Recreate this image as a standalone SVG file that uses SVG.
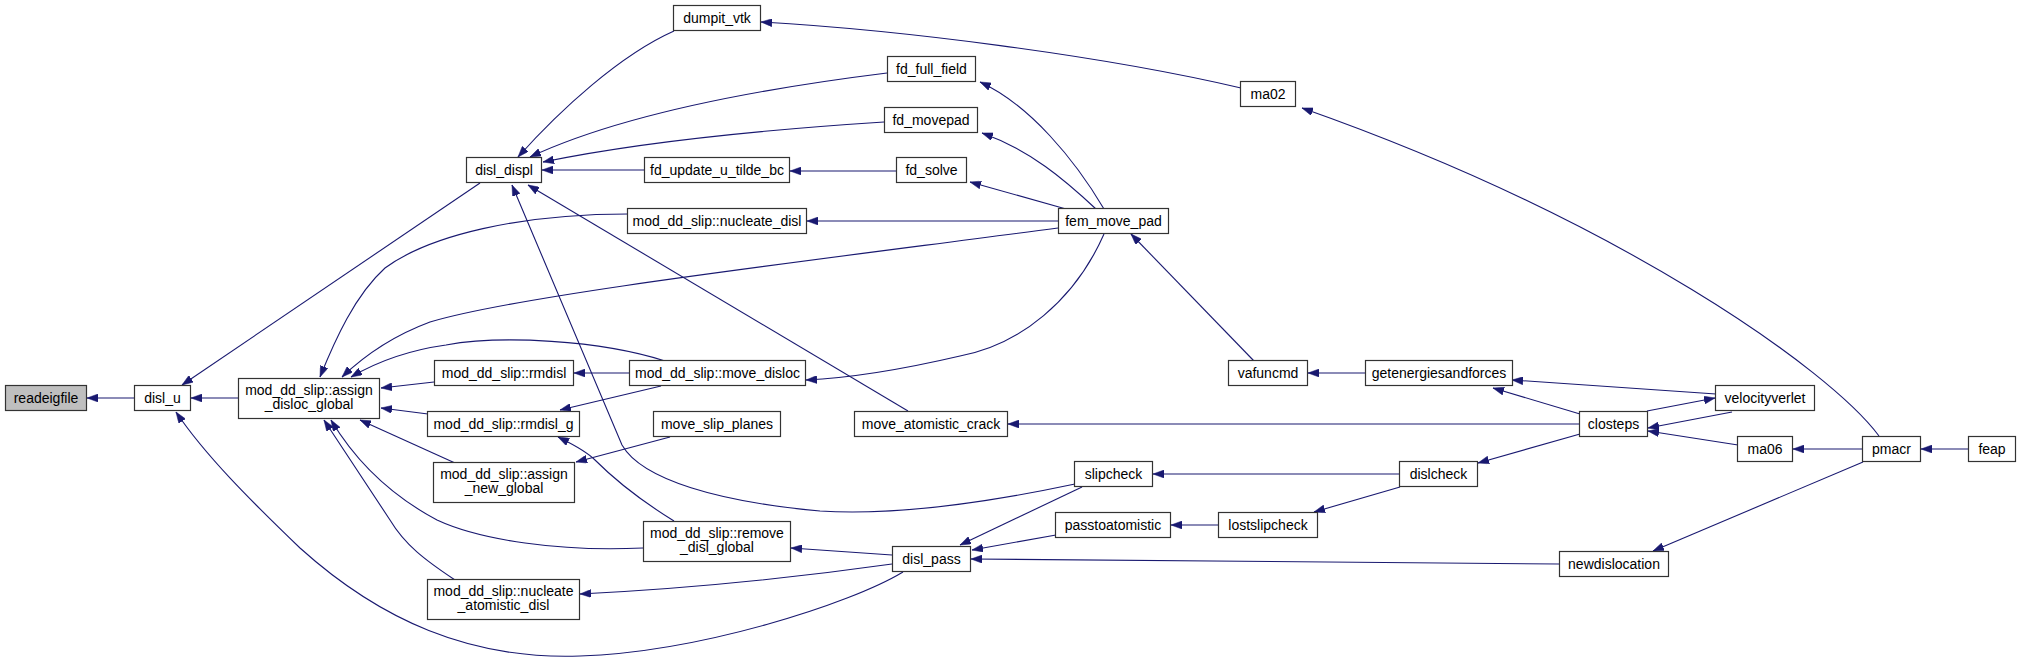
<svg xmlns="http://www.w3.org/2000/svg" width="2021" height="662" viewBox="0 0 2021 662">
<style>
.n rect{fill:#ffffff;stroke:#333333;stroke-width:1.2}
.n.root rect{fill:#bfbfbf}
.n text{font-family:"Liberation Sans",Arial,sans-serif;font-size:14px;fill:#000000;text-anchor:middle}
.e path{fill:none;stroke:#191970;stroke-width:1.1;marker-end:url(#ah)}
</style>
<defs>
<marker id="ah" viewBox="0 0 11 8" refX="11" refY="4" markerWidth="11" markerHeight="8" markerUnits="userSpaceOnUse" orient="auto">
<path d="M0,0 L11,4 L0,8 z" fill="#191970" stroke="#191970" stroke-width="0.5"/>
</marker>
</defs>
<rect x="0" y="0" width="2021" height="662" fill="#ffffff"/>
<g id="edges" class="e">
<path d="M134,398 L87,398"/>
<path d="M238,398 L191,398"/>
<path d="M480,183 L182,385"/>
<path d="M903,572 C850,604 700,652 580,656 C470,660 380,620 300,548 C250,500 205,455 176,412"/>
<path d="M1058,228 C800,262 520,295 430,322 C395,335 365,355 342,377"/>
<path d="M628,214 C520,214 430,235 385,268 C355,295 335,340 320,377"/>
<path d="M665,361 C600,340 500,335 446,345 C410,350 380,360 351,377"/>
<path d="M434,382 L381,388"/>
<path d="M428,414 L381,408"/>
<path d="M455,463 L360,420"/>
<path d="M643,548 C560,552 480,540 437,520 C390,495 355,460 331,420"/>
<path d="M455,580 C425,560 405,545 390,520 L324,420"/>
<path d="M629,373 L574,373"/>
<path d="M661,386 L560,410"/>
<path d="M674,521 C640,500 615,480 595,460 C585,450 570,443 558,437"/>
<path d="M670,437 L576,462"/>
<path d="M674,31 C620,55 560,110 518,157"/>
<path d="M887,73 C750,90 620,115 530,157"/>
<path d="M884,122 C760,130 640,142 543,162"/>
<path d="M645,170 L542,170"/>
<path d="M908,411 L528,185"/>
<path d="M1075,484 C990,502 900,516 820,511 C720,502 642,480 622,445 L512,185"/>
<path d="M892,555 L791,548"/>
<path d="M892,564 C800,577 700,588 580,594"/>
<path d="M1082,487 L960,545"/>
<path d="M1056,535 L972,550"/>
<path d="M1559,564 L971,559"/>
<path d="M896,171 L790,171"/>
<path d="M1104,209 C1075,160 1030,105 980,82"/>
<path d="M1096,209 C1065,180 1030,150 982,133"/>
<path d="M1066,209 L970,182"/>
<path d="M1058,221 L807,221"/>
<path d="M1104,234 C1075,300 1020,345 960,356 C900,370 850,378 806,380"/>
<path d="M1254,361 L1131,234"/>
<path d="M1241,88 C1100,55 900,30 761,22"/>
<path d="M1879,436 C1830,370 1620,220 1302,108"/>
<path d="M1365,373 L1308,373"/>
<path d="M1580,414 L1493,388"/>
<path d="M1716,394 L1512,380"/>
<path d="M1647,411 L1715,398"/>
<path d="M1732,412 L1648,428"/>
<path d="M1738,445 L1648,431"/>
<path d="M1580,424 L1008,424"/>
<path d="M1580,434 L1478,463"/>
<path d="M1400,474 L1153,474"/>
<path d="M1400,487 L1314,512"/>
<path d="M1218,525 L1171,525"/>
<path d="M1863,449 L1793,449"/>
<path d="M1969,449 L1921,449"/>
<path d="M1863,462 L1653,551"/>
</g>
<g id="readeigfile" class="n root"><rect x="5.5" y="385.5" width="81" height="25"/><text x="46" y="403">readeigfile</text></g>
<g id="disl_u" class="n"><rect x="134.5" y="385.5" width="56" height="25"/><text x="162.5" y="403">disl_u</text></g>
<g id="assign_disloc_global" class="n"><rect x="238.5" y="378.5" width="141" height="40"/><text x="309" y="395">mod_dd_slip::assign</text><text x="309" y="409">_disloc_global</text></g>
<g id="disl_displ" class="n"><rect x="466.5" y="157.5" width="75" height="25"/><text x="504" y="175">disl_displ</text></g>
<g id="rmdisl" class="n"><rect x="434.5" y="360.5" width="139" height="25"/><text x="504" y="378">mod_dd_slip::rmdisl</text></g>
<g id="rmdisl_g" class="n"><rect x="427.5" y="411.5" width="152" height="25"/><text x="503.5" y="429">mod_dd_slip::rmdisl_g</text></g>
<g id="assign_new_global" class="n"><rect x="433.5" y="462.5" width="141" height="40"/><text x="504" y="479">mod_dd_slip::assign</text><text x="504" y="493">_new_global</text></g>
<g id="nucleate_atomistic_disl" class="n"><rect x="427.5" y="579.5" width="152" height="40"/><text x="503.5" y="596">mod_dd_slip::nucleate</text><text x="503.5" y="610">_atomistic_disl</text></g>
<g id="dumpit_vtk" class="n"><rect x="673.5" y="5.5" width="87" height="25"/><text x="717" y="23">dumpit_vtk</text></g>
<g id="fd_full_field" class="n"><rect x="887.5" y="56.5" width="88" height="25"/><text x="931.5" y="74">fd_full_field</text></g>
<g id="fd_movepad" class="n"><rect x="884.5" y="107.5" width="93" height="25"/><text x="931" y="125">fd_movepad</text></g>
<g id="fd_update_u_tilde_bc" class="n"><rect x="644.5" y="157.5" width="145" height="25"/><text x="717" y="175">fd_update_u_tilde_bc</text></g>
<g id="fd_solve" class="n"><rect x="896.5" y="157.5" width="70" height="25"/><text x="931.5" y="175">fd_solve</text></g>
<g id="nucleate_disl" class="n"><rect x="627.5" y="208.5" width="179" height="25"/><text x="717" y="226">mod_dd_slip::nucleate_disl</text></g>
<g id="fem_move_pad" class="n"><rect x="1058.5" y="208.5" width="110" height="25"/><text x="1113.5" y="226">fem_move_pad</text></g>
<g id="ma02" class="n"><rect x="1240.5" y="81.5" width="55" height="25"/><text x="1268" y="99">ma02</text></g>
<g id="move_disloc" class="n"><rect x="629.5" y="360.5" width="176" height="25"/><text x="717.5" y="378">mod_dd_slip::move_disloc</text></g>
<g id="move_slip_planes" class="n"><rect x="653.5" y="411.5" width="127" height="25"/><text x="717" y="429">move_slip_planes</text></g>
<g id="move_atomistic_crack" class="n"><rect x="854.5" y="411.5" width="153" height="25"/><text x="931" y="429">move_atomistic_crack</text></g>
<g id="remove_disl_global" class="n"><rect x="643.5" y="521.5" width="147" height="40"/><text x="717" y="538">mod_dd_slip::remove</text><text x="717" y="552">_disl_global</text></g>
<g id="disl_pass" class="n"><rect x="892.5" y="546.5" width="78" height="25"/><text x="931.5" y="564">disl_pass</text></g>
<g id="slipcheck" class="n"><rect x="1074.5" y="461.5" width="78" height="25"/><text x="1113.5" y="479">slipcheck</text></g>
<g id="passtoatomistic" class="n"><rect x="1055.5" y="512.5" width="115" height="25"/><text x="1113" y="530">passtoatomistic</text></g>
<g id="vafuncmd" class="n"><rect x="1228.5" y="360.5" width="79" height="25"/><text x="1268" y="378">vafuncmd</text></g>
<g id="getenergiesandforces" class="n"><rect x="1365.5" y="360.5" width="147" height="25"/><text x="1439" y="378">getenergiesandforces</text></g>
<g id="lostslipcheck" class="n"><rect x="1218.5" y="512.5" width="99" height="25"/><text x="1268" y="530">lostslipcheck</text></g>
<g id="dislcheck" class="n"><rect x="1399.5" y="461.5" width="78" height="25"/><text x="1438.5" y="479">dislcheck</text></g>
<g id="closteps" class="n"><rect x="1579.5" y="411.5" width="68" height="25"/><text x="1613.5" y="429">closteps</text></g>
<g id="velocityverlet" class="n"><rect x="1715.5" y="385.5" width="99" height="25"/><text x="1765" y="403">velocityverlet</text></g>
<g id="ma06" class="n"><rect x="1737.5" y="436.5" width="55" height="25"/><text x="1765" y="454">ma06</text></g>
<g id="newdislocation" class="n"><rect x="1559.5" y="551.5" width="109" height="25"/><text x="1614" y="569">newdislocation</text></g>
<g id="pmacr" class="n"><rect x="1862.5" y="436.5" width="58" height="25"/><text x="1891.5" y="454">pmacr</text></g>
<g id="feap" class="n"><rect x="1968.5" y="436.5" width="47" height="25"/><text x="1992" y="454">feap</text></g>
</svg>
